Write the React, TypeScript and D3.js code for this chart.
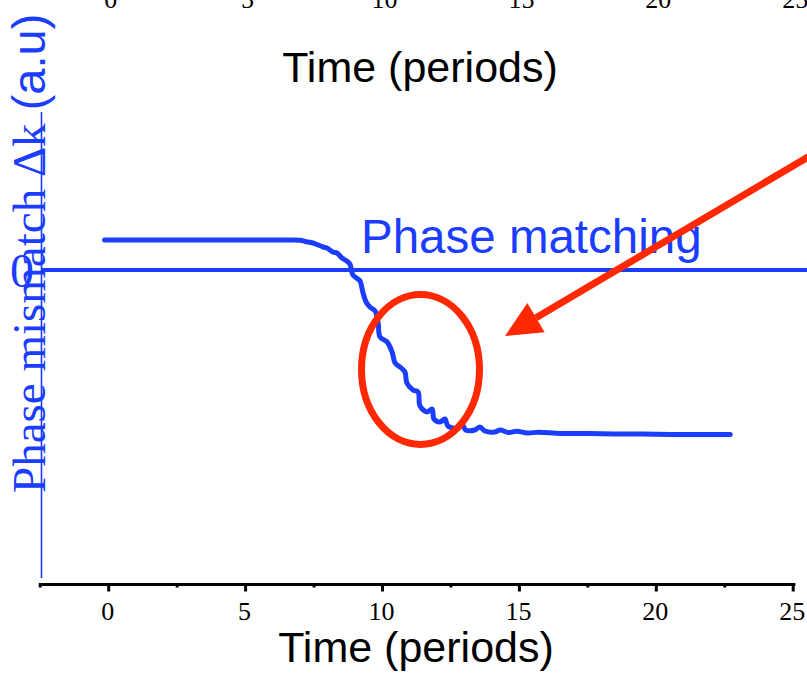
import React from "react";
import * as d3 from "d3";

// Time axis ticks (periods)
const timeTicks = [0, 5, 10, 15, 20, 25];
const minorTicks = [-2.5, 2.5, 7.5, 12.5, 17.5, 22.5];

// Phase mismatch trace: time (periods) and Δk (a.u.)
const traceTime = [
  -0.15, 1, 3, 5, 6.5, 7.0, 7.17, 7.46, 7.83, 7.97, 8.19, 8.34, 8.52, 8.7, 8.81,
  8.92, 9.1, 9.18, 9.29, 9.4, 9.54, 9.73, 9.84, 9.91, 10.17, 10.35, 10.46, 10.64,
  10.82, 10.89, 11.11, 11.3, 11.37, 11.63, 11.81, 11.88, 12.1, 12.28, 12.39,
  12.72, 12.9, 13.04, 13.37, 13.56, 13.74, 14.1, 14.3, 14.6, 14.9, 15.3, 15.7,
  16.5, 17.5, 18.5, 19.5, 20.5, 21.5, 22.7,
];
const traceDk = [
  0.3, 0.3, 0.3, 0.3, 0.3, 0.297, 0.285, 0.27, 0.23, 0.22, 0.18, 0.17, 0.12, 0.09,
  0.06, -0.05, -0.09, -0.11, -0.23, -0.32, -0.37, -0.41, -0.53, -0.67, -0.72,
  -0.82, -0.93, -0.97, -1.02, -1.13, -1.2, -1.22, -1.36, -1.42, -1.39, -1.49,
  -1.52, -1.49, -1.56, -1.58, -1.54, -1.6, -1.6, -1.57, -1.61, -1.62, -1.6,
  -1.625, -1.612, -1.63, -1.622, -1.635, -1.635, -1.64, -1.64, -1.645, -1.645,
  -1.645,
];

// Phase-matching reference level
const phaseMatchLevel = 0;

const BLUE = "#1a3dff";
const RED = "#ff2800";
const SERIF = "'Liberation Serif', 'Times New Roman', serif";
const SANS = "'Liberation Sans', Arial, Helvetica, sans-serif";

export default function App() {
  const W = 807;
  const H = 673;

  const x = d3.scaleLinear().domain([0, 25]).range([108.7, 793.2]);
  const y = d3.scaleLinear().domain([-3.08, 1.58]).range([578, 112]);

  const points = traceTime.map((t, i) => [t, traceDk[i]] as [number, number]);
  const line = d3
    .line<[number, number]>()
    .x((d) => x(d[0]))
    .y((d) => y(d[1]))
    .curve(d3.curveCatmullRom.alpha(0.5));

  const axisY = 584.5;
  const axisX0 = x(-2.45);
  const axisX1 = x(25.08);

  // Arrow pointing at the ellipse
  const tip: [number, number] = [505, 336];
  const tail: [number, number] = [830, 144];
  const ang = Math.atan2(tail[1] - tip[1], tail[0] - tip[0]);
  const headLen = 36;
  const headHalf = 17;
  const bx = tip[0] + Math.cos(ang) * headLen;
  const by = tip[1] + Math.sin(ang) * headLen;
  const px = -Math.sin(ang) * headHalf;
  const py = Math.cos(ang) * headHalf;
  const head = `M${tip[0]},${tip[1]} L${bx + px},${by + py} L${bx - px},${by - py} Z`;

  return (
    <svg
      width={W}
      height={H}
      viewBox={`0 0 ${W} ${H}`}
      style={{ position: "absolute", left: 0, top: 0, background: "#fff" }}
    >
      {/* upper panel remnants: tick labels and axis title */}
      {timeTicks.map((t) => (
        <text
          key={`tt${t}`}
          x={x(t) + 2}
          y={8}
          textAnchor="middle"
          fontFamily={SERIF}
          fontSize={26}
          fill="#000"
        >
          {t}
        </text>
      ))}
      <text x={420} y={82} textAnchor="middle" fontFamily={SANS} fontSize={43} fill="#000">
        Time (periods)
      </text>

      {/* y axis */}
      <line x1={41.5} x2={41.5} y1={y(1.58)} y2={578} stroke={BLUE} strokeWidth={1.6} />
      <text
        transform={`translate(45,493) rotate(-90)`}
        fontFamily={SERIF}
        fontSize={47}
        fill={BLUE}
      >
        Phase mismatch Δk
        <tspan fontFamily={SANS}> (a.u)</tspan>
      </text>
      <text x={22} y={287} textAnchor="middle" fontFamily={SERIF} fontSize={48} fill={BLUE}>
        0
      </text>

      {/* phase matching level */}
      <line
        x1={41.5}
        x2={W}
        y1={y(phaseMatchLevel)}
        y2={y(phaseMatchLevel)}
        stroke={BLUE}
        strokeWidth={4}
      />
      <text x={361} y={253} fontFamily={SANS} fontSize={47.5} fill={BLUE}>
        Phase matching
      </text>

      {/* trace */}
      <path
        d={line(points) ?? ""}
        fill="none"
        stroke={BLUE}
        strokeWidth={5}
        strokeLinejoin="round"
        strokeLinecap="round"
      />

      {/* highlight ellipse and arrow */}
      <ellipse cx={420.5} cy={369.5} rx={59} ry={75} fill="none" stroke={RED} strokeWidth={7} />
      <line x1={tail[0]} y1={tail[1]} x2={bx} y2={by} stroke={RED} strokeWidth={7} />
      <path d={head} fill={RED} />

      {/* bottom time axis */}
      <line x1={axisX0} x2={axisX1} y1={axisY} y2={axisY} stroke="#000" strokeWidth={3} />
      {timeTicks.map((t) => (
        <line
          key={`mt${t}`}
          x1={x(t)}
          x2={x(t)}
          y1={axisY - 1.5}
          y2={axisY + 7}
          stroke="#000"
          strokeWidth={3}
        />
      ))}
      {minorTicks.map((t) => (
        <line
          key={`nt${t}`}
          x1={x(t)}
          x2={x(t)}
          y1={axisY - 1.5}
          y2={axisY + 3}
          stroke="#000"
          strokeWidth={3}
        />
      ))}
      {timeTicks.map((t) => (
        <text
          key={`bl${t}`}
          x={x(t) - 1}
          y={620}
          textAnchor="middle"
          fontFamily={SERIF}
          fontSize={26}
          fill="#000"
        >
          {t}
        </text>
      ))}
      <text x={416} y={662} textAnchor="middle" fontFamily={SANS} fontSize={43} fill="#000">
        Time (periods)
      </text>
    </svg>
  );
}
